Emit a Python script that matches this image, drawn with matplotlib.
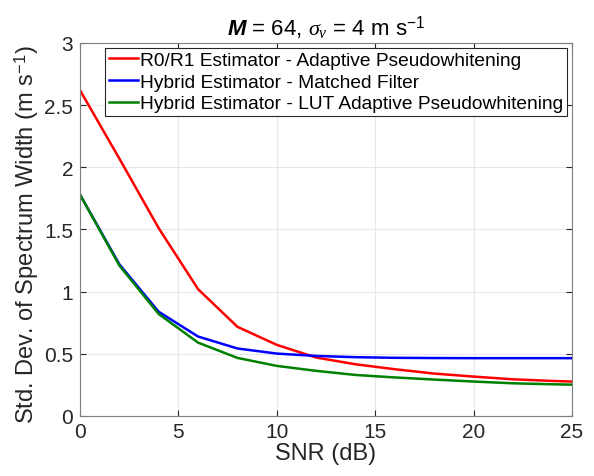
import matplotlib
matplotlib.use("Agg")
import matplotlib.pyplot as plt

plt.rcParams['font.family'] = ['Liberation Sans', 'DejaVu Sans']
plt.rcParams['mathtext.fontset'] = 'custom'
plt.rcParams['mathtext.rm'] = 'Liberation Sans'
plt.rcParams['mathtext.it'] = 'Liberation Serif:italic'
plt.rcParams['mathtext.bf'] = 'Liberation Sans:bold'
plt.rcParams['mathtext.bfit'] = 'Liberation Sans:bold:italic'

# SNR (dB)
snr = [0, 2, 4, 6, 8, 10, 12, 14, 16, 18, 20, 22, 24, 25]

# std. dev. of spectrum width (m/s)
r0r1_apw = [2.62, 2.07, 1.51, 1.02, 0.717, 0.572, 0.47, 0.416, 0.376, 0.341, 0.317, 0.295, 0.282, 0.277]
hybrid_mf = [1.78, 1.22, 0.838, 0.639, 0.543, 0.502, 0.483, 0.473, 0.468, 0.466, 0.465, 0.465, 0.465, 0.465]
hybrid_lut = [1.78, 1.21, 0.82, 0.59, 0.467, 0.403, 0.363, 0.33, 0.31, 0.293, 0.277, 0.263, 0.255, 0.252]

labels = ["R0/R1 Estimator - Adaptive Pseudowhitening",
          "Hybrid Estimator - Matched Filter",
          "Hybrid Estimator - LUT Adaptive Pseudowhitening"]

fig = plt.figure(figsize=(5.94, 4.77), dpi=100)
ax = fig.add_axes([0.1347, 0.1258, 0.8283, 0.782])

ax.plot(snr, r0r1_apw, color="#FF0000", linewidth=1.8, label=labels[0])
ax.plot(snr, hybrid_mf, color="#0000FF", linewidth=1.8, label=labels[1])
ax.plot(snr, hybrid_lut, color="#008000", linewidth=1.8, label=labels[2])

ax.set_xlim(0, 25)
ax.set_ylim(0, 3)
ax.set_xticks([0, 5, 10, 15, 20, 25])
ax.set_yticks([0, 0.5, 1, 1.5, 2, 2.5, 3])
ax.set_yticklabels(["0", "0.5", "1", "1.5", "2", "2.5", "3"])
ax.grid(True, color="#E8E8E8", linewidth=0.8)
ax.set_axisbelow(True)
ax.tick_params(direction="in", top=True, right=True, labelsize=15, colors="#262626",
               length=4)
ax.tick_params(axis="x", pad=4)
ax.tick_params(axis="y", pad=5)
for sp in ax.spines.values():
    sp.set_color("#7F7F7F")
    sp.set_linewidth(0.8)

ax.set_xlabel("SNR (dB)", fontsize=17, color="#262626", labelpad=1)
ax.set_ylabel("Std. Dev. of Spectrum Width (m s$^{-1}$)", fontsize=17, color="#262626")
ax.yaxis.set_label_coords(-0.08, 0.49)
ax.set_title(r"$\mathbfit{M}$ = 64, $\sigma_v$ = 4 m s$^{-1}$", fontsize=16, pad=6)

leg = ax.legend(loc="upper right", fontsize=13.8, frameon=True, fancybox=False,
                handlelength=1.5, handletextpad=0.12, borderpad=0.2, labelspacing=0.22,
                borderaxespad=0.25)
leg.get_frame().set_edgecolor("#262626")
leg.get_frame().set_linewidth(0.8)
leg.get_frame().set_alpha(1)

fig.savefig("out.png", dpi=100)
